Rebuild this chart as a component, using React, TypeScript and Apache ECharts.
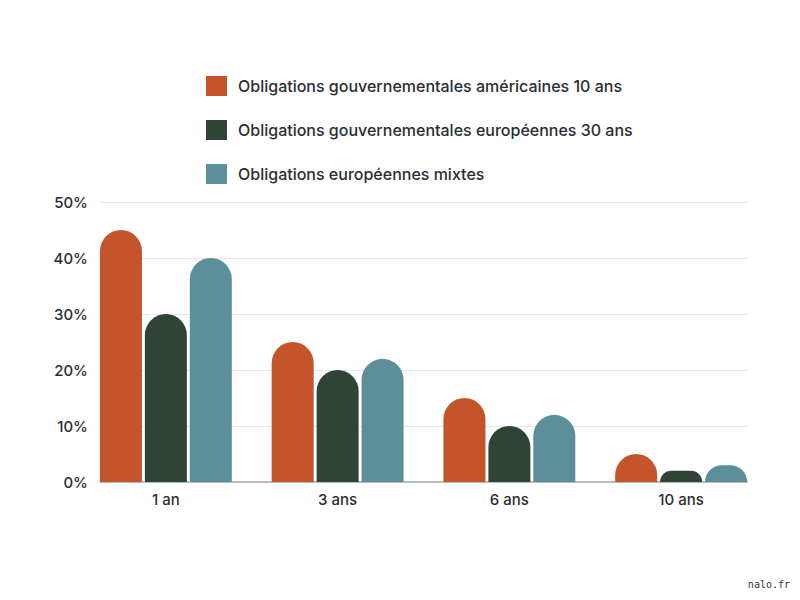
import { useEffect, useRef } from 'react';
import * as echarts from 'echarts';

const categories = ['1 an', '3 ans', '6 ans', '10 ans'];
const seriesNames = [
  'Obligations gouvernementales américaines 10 ans',
  'Obligations gouvernementales européennes 30 ans',
  'Obligations européennes mixtes',
];
const usGov10 = [45, 25, 15, 5];
const euGov30 = [30, 20, 10, 2];
const euMixed = [40, 22, 12, 3];
const colors = ['#C4552A', '#2F4437', '#5D8F9A'];

const FONT = 'Inter, "Noto Sans", sans-serif';
const TEXT = '#2a2e33';

export default function App() {
  const ref = useRef<HTMLDivElement>(null);

  useEffect(() => {
    if (!ref.current) return;
    const chart = echarts.init(ref.current, undefined, { renderer: 'svg' });

    const values = [usGov10, euGov30, euMixed];
    const series: echarts.SeriesOption[] = values.map((v, i) => ({
      name: seriesNames[i],
      type: 'bar',
      data: v,
      xAxisIndex: 1,
      yAxisIndex: 1,
      barWidth: 42,
      barGap: '7%',
      itemStyle: { color: colors[i], borderRadius: [21, 21, 0, 0] },
    }));

    chart.setOption({
      animation: false,
      backgroundColor: '#ffffff',
      textStyle: { fontFamily: FONT },
      legend: {
        orient: 'vertical',
        left: 201,
        top: 71,
        itemWidth: 21,
        itemHeight: 20,
        itemGap: 24,
        icon: 'rect',
        textStyle: { fontFamily: FONT, fontSize: 16, fontWeight: 500, color: TEXT, padding: [0, 0, 0, 6] },
        data: seriesNames,
      },
      grid: [
        { left: 100, right: 53, top: 202, bottom: 118 },
        { left: 80, right: 33, top: 202, bottom: 118 },
      ],
      xAxis: [
        {
          type: 'category',
          gridIndex: 0,
          data: categories,
          axisLine: { lineStyle: { color: '#a9acae', width: 1.5 } },
          axisTick: { show: false },
          axisLabel: { show: false },
        },
        {
          type: 'category',
          gridIndex: 1,
          data: categories,
          axisLine: { show: false },
          axisTick: { show: false },
          axisLabel: { fontFamily: FONT, fontSize: 15, fontWeight: 500, color: TEXT, margin: 10 },
        },
      ],
      yAxis: [
        {
          type: 'value',
          gridIndex: 0,
          min: 0,
          max: 50,
          interval: 10,
          axisLine: { show: false },
          axisTick: { show: false },
          axisLabel: { formatter: '{value}%', fontFamily: FONT, fontSize: 15, fontWeight: 500, color: TEXT, margin: 12 },
          splitLine: { lineStyle: { color: '#e4e6e7', width: 1 } },
        },
        {
          type: 'value',
          gridIndex: 1,
          min: 0,
          max: 50,
          interval: 10,
          show: false,
          splitLine: { show: false },
        },
      ],
      graphic: [
        {
          type: 'text',
          right: 10,
          top: 579,
          style: { text: 'nalo.fr', font: '10px "DejaVu Sans Mono", monospace', fill: '#333' },
        },
      ],
      series,
    });

    return () => chart.dispose();
  }, []);

  return <div ref={ref} style={{ width: 800, height: 600, margin: -8 }} />;
}
